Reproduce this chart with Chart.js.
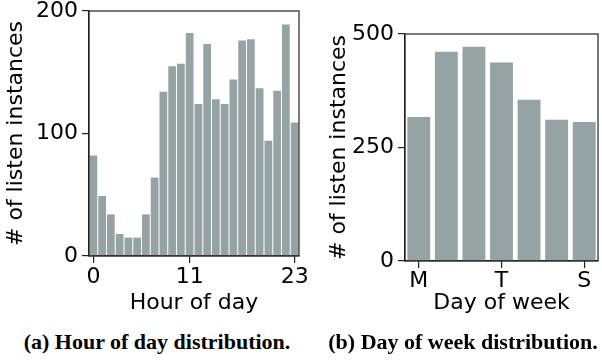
<!DOCTYPE html>
<html>
<head>
<meta charset="utf-8">
<script src="https://cdn.jsdelivr.net/npm/chart.js@4.4.1/dist/chart.umd.min.js"></script>
<style>
  body { margin: 0; background: #fff; width: 602px; height: 362px; overflow: hidden; position: relative; }
  .box { position: absolute; }
  .cap { position: absolute; top: 329px; font-family: "Liberation Serif", serif; font-weight: bold; font-size: 22px; white-space: nowrap; transform: translateX(-50%); color: #000; }
</style>
</head>
<body>
<div class="box" style="left:0px; top:-20px; width:312px; height:338px;"><canvas id="hourChart"></canvas></div>
<div class="box" style="left:300px; top:-20px; width:302px; height:338px;"><canvas id="dayChart"></canvas></div>
<div class="cap" style="left:157px;">(a) Hour of day distribution.</div>
<div class="cap" style="left:463px;">(b) Day of week distribution.</div>

<script>
// data
const hours = [];
for (let h = 0; h < 24; h++) hours.push(String(h));
const hourCounts = [82, 49, 34, 18, 15, 15, 34, 64, 134, 155, 157, 182, 124, 173, 128, 124, 144, 176, 177, 137, 94, 135, 189, 109];
const hourTicks = [0, 11, 23];

const days = ["M", "T", "W", "T", "F", "S", "S"];
const dayCounts = [317, 461, 472, 437, 355, 311, 306];
const dayTicks = [0, 3, 6];

const barColor = "#95a3a4";
const lineColor = "#222";
const tickFont = { family: "DejaVu Sans", size: 22 };

// box around the plot area
const framePlugin = {
  id: "frame",
  afterDatasetsDraw(chart) {
    const a = chart.chartArea;
    const ctx = chart.ctx;
    ctx.save();
    ctx.strokeStyle = lineColor;
    ctx.lineWidth = 1.2;
    ctx.strokeRect(a.left, a.top, a.right - a.left, a.bottom - a.top);
    ctx.restore();
  }
};

function makeChart(id, labels, values, shown, yMax, yStep, opts) {
  const ctx = document.getElementById(id).getContext("2d");
  return new Chart(ctx, {
    type: "bar",
    data: {
      labels: labels,
      datasets: [{
        data: values,
        backgroundColor: barColor,
        barPercentage: opts.barPct,
        categoryPercentage: 1
      }]
    },
    options: {
      responsive: true,
      maintainAspectRatio: false,
      animation: false,
      layout: { padding: opts.padding },
      plugins: { legend: { display: false }, tooltip: { enabled: false } },
      scales: {
        x: {
          offset: true,
          grid: {
            offset: false,
            drawOnChartArea: false,
            tickLength: 7,
            lineWidth: 1.2,
            color: (c) => shown.includes(c.index) ? lineColor : "transparent"
          },
          border: { color: lineColor, width: 1.2 },
          ticks: {
            autoSkip: false,
            maxRotation: 0,
            color: "#000",
            font: tickFont,
            padding: opts.xPad,
            callback: (v, i) => shown.includes(i) ? labels[i] : ""
          },
          title: { display: true, text: opts.xTitle, color: "#000", font: tickFont, padding: { top: 0, bottom: 2 } },
          afterFit: (s) => { s.height = opts.xHeight; }
        },
        y: {
          min: 0,
          max: yMax,
          grid: { drawOnChartArea: false, tickLength: 7, lineWidth: 1.2, color: lineColor },
          border: { color: lineColor, width: 1.2 },
          ticks: { stepSize: yStep, color: "#000", font: tickFont, padding: 4 },
          title: { display: true, text: "# of listen instances", color: "#000", font: tickFont, padding: { top: 3, bottom: 0 } },
          afterFit: (s) => { s.width = opts.yWidth; }
        }
      }
    },
    plugins: [framePlugin]
  });
}

makeChart("hourChart", hours, hourCounts, hourTicks, 200, 100, {
  barPct: 0.88,
  padding: { top: 31, right: 13, left: 0, bottom: 0 },
  xHeight: 62,
  yWidth: 89,
  xPad: 1,
  xTitle: "Hour of day"
});

makeChart("dayChart", days, dayCounts, dayTicks, 500, 250, {
  barPct: 0.83,
  padding: { top: 54, right: 4, left: 23, bottom: 0 },
  xHeight: 57,
  yWidth: 82,
  xPad: 0,
  xTitle: "Day of week"
});
</script>
</body>
</html>
